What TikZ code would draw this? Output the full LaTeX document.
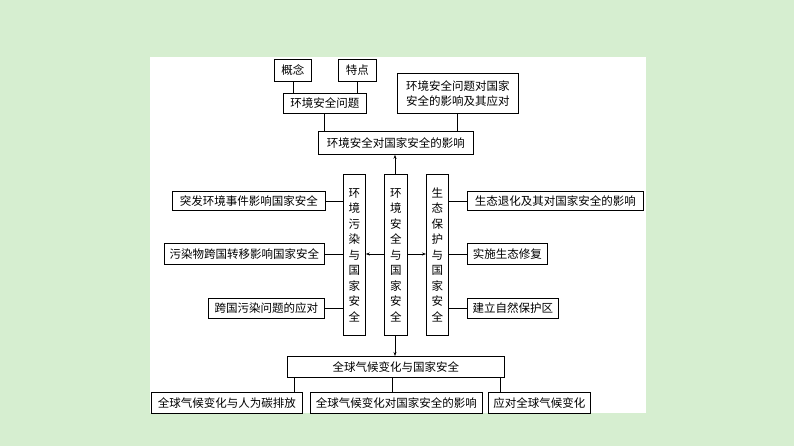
\documentclass[tikz,border=0pt]{standalone}
\usepackage{fontspec}
\setmainfont{Noto Sans CJK SC}
\usetikzlibrary{arrows.meta}
\definecolor{bggreen}{RGB}{214,238,208}
\tikzset{
 bx/.style={draw,line width=0.8pt,inner sep=0pt,font=\fontsize{11.5}{13}\selectfont},
 vbx/.style={draw,line width=0.8pt,inner sep=0pt,align=center,font=\fontsize{11.5}{15.5}\selectfont},
 ln/.style={line width=0.7pt},
 ar/.style={line width=0.7pt,-{Stealth[length=4pt,width=3pt]}}
}
\newcommand{\bxat}[6]{\node[bx,minimum width=#4-#2,minimum height=#5-#3,anchor=north west] (#1) at (#2,#3) {#6};}
\begin{document}
\begin{tikzpicture}[x=1pt,y=-1pt]
\fill[bggreen] (0,0) rectangle (794,446);
\fill[white] (150,57) rectangle (646,413);
\bxat{gn}{274}{59}{311}{81}{概念}
\bxat{td}{338}{59}{376}{81}{特点}
\bxat{wt}{283}{93}{366}{113}{环境安全问题}
\node[bx,align=center,minimum width=121,minimum height=40,anchor=north west,font=\fontsize{11.5}{15}\selectfont] (yd) at (397,73) {环境安全问题对国家\\安全的影响及其应对};
\bxat{yx}{318}{131}{473}{154}{环境安全对国家安全的影响}
\node[vbx,minimum width=22,minimum height=161,anchor=north west] (vl) at (343,174) {环\\境\\污\\染\\与\\国\\家\\安\\全};
\node[vbx,minimum width=23,minimum height=161,anchor=north west] (vc) at (384,174) {环\\境\\安\\全\\与\\国\\家\\安\\全};
\node[vbx,minimum width=22,minimum height=161,anchor=north west] (vr) at (426,174) {生\\态\\保\\护\\与\\国\\家\\安\\全};
\bxat{l1}{172}{191}{325}{210}{突发环境事件影响国家安全}
\bxat{l2}{164}{243}{324}{264}{污染物跨国转移影响国家安全}
\bxat{l3}{208}{298}{324}{318}{跨国污染问题的应对}
\bxat{r1}{467}{191}{643}{210}{生态退化及其对国家安全的影响}
\bxat{r2}{467}{243}{547}{264}{实施生态修复}
\bxat{r3}{467}{298}{558}{318}{建立自然保护区}
\bxat{qq}{287}{356}{504}{377}{全球气候变化与国家安全}
\bxat{b1}{151}{392}{302}{413}{全球气候变化与人为碳排放}
\bxat{b2}{310}{392}{482}{413}{全球气候变化对国家安全的影响}
\bxat{b3}{488}{392}{590}{413}{应对全球气候变化}
% connectors
\draw[ln] (gn.south) -- (gn.south |- wt.north);
\draw[ln] (td.south) -- (td.south |- wt.north);
\draw[ln] (wt.south -| 324,0) -- (yx.north -| 324,0);
\draw[ln] (yd.south -| 457,0) -- (yx.north -| 457,0);
\draw[ar] (vc.north -| 395,0) -- (yx.south -| 395,0);
\draw[ln] (l1.east) -- (l1.east -| vl.west);
\draw[ln] (l2.east) -- (l2.east -| vl.west);
\draw[ln] (l3.east) -- (l3.east -| vl.west);
\draw[ln] (r1.west) -- (r1.west -| vr.east);
\draw[ln] (r2.west) -- (r2.west -| vr.east);
\draw[ln] (r3.west) -- (r3.west -| vr.east);
\draw[ar] (vc.west |- 0,254) -- (vl.east |- 0,254);
\draw[ar] (vc.east |- 0,254) -- (vr.west |- 0,254);
\draw[ar] (vc.south -| 395,0) -- (qq.north -| 395,0);
\draw[ln] (qq.south -| 294,0) -- (b1.north -| 294,0);
\draw[ln] (qq.south -| 392,0) -- (b2.north -| 392,0);
\draw[ln] (qq.south -| 500,0) -- (b3.north -| 500,0);
\end{tikzpicture}
\end{document}
